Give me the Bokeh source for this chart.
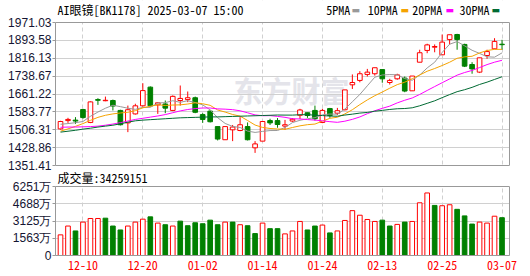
from bokeh.plotting import figure
from bokeh.models import (Range1d, FixedTicker, Grid, Label, ColumnDataSource,
                          BoxAnnotation, Span, LinearAxis)
from bokeh.embed import file_html
from bokeh.resources import INLINE

dates = ["12-05", "12-06", "12-09", "12-10", "12-11", "12-12", "12-13", "12-16", "12-17", "12-18",
         "12-19", "12-20", "12-23", "12-24", "12-25", "12-26", "12-27", "12-30", "12-31", "01-02",
         "01-03", "01-06", "01-07", "01-08", "01-09", "01-10", "01-13", "01-14", "01-15", "01-16",
         "01-17", "01-20", "01-21", "01-22", "01-23", "01-24", "01-27", "02-05", "02-06", "02-07",
         "02-10", "02-11", "02-12", "02-13", "02-14", "02-17", "02-18", "02-19", "02-20", "02-21",
         "02-24", "02-25", "02-26", "02-27", "02-28", "03-03", "03-04", "03-05", "03-06", "03-07"]
opens = [1510, 1546, 1548, 1594, 1538, 1637, 1632, 1633, 1590, 1536,
         1575, 1610, 1691, 1614, 1618, 1590, 1633, 1637, 1645, 1572,
         1587, 1520, 1463, 1506, 1503, 1520, 1428, 1457, 1546, 1546,
         1522, 1544, 1569, 1580, 1590, 1538, 1598, 1578, 1593, 1701,
         1720, 1746, 1749, 1767, 1711, 1727, 1730, 1675, 1799, 1850,
         1864, 1831, 1897, 1919, 1876, 1789, 1756, 1828, 1857, 1877]
highs = [1545, 1558, 1561, 1597, 1629, 1643, 1650, 1637, 1593, 1611,
         1619, 1708, 1694, 1626, 1633, 1655, 1698, 1672, 1650, 1578,
         1593, 1520, 1520, 1527, 1561, 1538, 1457, 1542, 1554, 1557,
         1549, 1556, 1597, 1580, 1611, 1597, 1601, 1601, 1679, 1746,
         1760, 1770, 1775, 1767, 1727, 1749, 1737, 1739, 1853, 1879,
         1876, 1919, 1918, 1922, 1879, 1799, 1818, 1853, 1903, 1896]
lows = [1507, 1536, 1532, 1554, 1535, 1614, 1630, 1590, 1525, 1496,
        1572, 1607, 1607, 1575, 1578, 1587, 1611, 1626, 1578, 1536,
        1538, 1460, 1463, 1457, 1500, 1460, 1406, 1457, 1527, 1515,
        1506, 1541, 1553, 1558, 1546, 1535, 1558, 1570, 1590, 1683,
        1712, 1737, 1741, 1710, 1702, 1723, 1669, 1675, 1799, 1838,
        1842, 1831, 1876, 1853, 1778, 1749, 1752, 1814, 1857, 1853]
closes = [1542, 1551, 1544, 1559, 1627, 1634, 1634, 1609, 1528, 1593,
          1610, 1676, 1610, 1623, 1600, 1651, 1642, 1645, 1582, 1551,
          1541, 1466, 1520, 1518, 1528, 1463, 1445, 1542, 1536, 1529,
          1528, 1552, 1592, 1568, 1554, 1590, 1568, 1589, 1679, 1711,
          1749, 1756, 1775, 1727, 1720, 1744, 1674, 1739, 1840, 1874,
          1867, 1886, 1918, 1897, 1782, 1770, 1818, 1845, 1889, 1875]
ma5 = [1530, 1533, 1537, 1542, 1564.6, 1583.0, 1599.6, 1612.6, 1606.4, 1599.6,
       1594.8, 1603.2, 1603.4, 1622.4, 1623.8, 1632.0, 1625.2, 1632.2, 1624.0, 1614.2,
       1592.2, 1558.6, 1533.6, 1520.8, 1516.2, 1500.6, 1494.8, 1499.2, 1502.8, 1503.0,
       1516.0, 1537.4, 1547.4, 1553.8, 1558.8, 1571.2, 1574.4, 1573.8, 1596.0, 1627.4,
       1659.2, 1696.8, 1734.0, 1743.6, 1745.4, 1744.4, 1728.0, 1720.8, 1743.4, 1774.2,
       1798.8, 1841.2, 1877.0, 1888.4, 1870.0, 1850.6, 1837.0, 1822.4, 1820.8, 1839.4]
ma10 = [1500, 1510, 1521, 1533, 1547, 1560, 1569, 1575, 1579, 1582.1,
        1588.9, 1601.4, 1608.0, 1614.4, 1611.7, 1613.4, 1614.2, 1617.8, 1623.2, 1619.0,
        1612.1, 1591.9, 1582.9, 1572.4, 1565.2, 1546.4, 1526.7, 1516.4, 1511.8, 1509.6,
        1508.3, 1516.1, 1523.3, 1528.3, 1530.9, 1543.6, 1555.9, 1560.6, 1574.9, 1593.1,
        1615.2, 1635.6, 1653.9, 1669.8, 1686.4, 1701.8, 1712.4, 1727.4, 1743.5, 1759.8,
        1771.6, 1784.6, 1798.9, 1815.9, 1822.1, 1824.7, 1839.1, 1849.7, 1854.6, 1854.7]
ma20 = [1517, 1518, 1518, 1519, 1520, 1522, 1526, 1531, 1537, 1544,
        1551, 1556, 1561, 1566, 1572, 1580, 1588, 1594, 1598, 1600.6,
        1600.5, 1596.7, 1595.5, 1593.4, 1588.5, 1579.9, 1570.5, 1567.1, 1567.5, 1564.3,
        1560.2, 1554.0, 1553.1, 1550.4, 1548.1, 1545.0, 1541.3, 1538.5, 1543.4, 1551.4,
        1561.8, 1575.9, 1588.6, 1599.1, 1608.7, 1622.7, 1634.2, 1644.0, 1659.2, 1676.5,
        1693.4, 1710.1, 1726.4, 1742.9, 1754.3, 1763.3, 1775.8, 1788.6, 1799.1, 1807.3]
ma30 = [1496, 1500, 1504, 1509, 1513, 1518, 1522, 1526, 1532, 1539,
        1545, 1548, 1550, 1552, 1554, 1556, 1558, 1559, 1560, 1561,
        1562, 1562, 1563, 1564, 1565, 1566, 1567, 1568, 1569, 1570.2,
        1569.8, 1569.8, 1571.4, 1571.7, 1569.3, 1567.8, 1565.6, 1564.9, 1570.0, 1573.9,
        1578.5, 1581.2, 1586.7, 1590.2, 1594.2, 1597.3, 1598.3, 1601.5, 1610.1, 1620.8,
        1631.7, 1645.4, 1658.7, 1671.3, 1679.8, 1690.0, 1702.5, 1712.6, 1724.3, 1735.9]
# volume in 万 (10k shares)
volume = [1869, 2669, 2225, 3025, 3352, 3352, 3381, 2669, 2313, 2669,
          3025, 3292, 3500, 2936, 2788, 2669, 3114, 2699, 2966, 2877,
          3203, 2788, 3025, 3025, 2788, 2699, 1987, 2936, 2432, 2432,
          1958, 2225, 3085, 2313, 2669, 2758, 2047, 2225, 3174, 4063,
          3648, 3263, 3085, 3203, 2669, 2818, 3025, 3085, 4775, 5665,
          4538, 4508, 4597, 4182, 3589, 2847, 3025, 2936, 3559, 3425.9151]
vol_up = [1, 1, 0, 1, 1, 1, 0, 0, 0, 1,
          1, 1, 0, 1, 0, 1, 0, 0, 0, 0,
          0, 0, 1, 0, 1, 0, 0, 1, 0, 0,
          1, 1, 1, 0, 0, 1, 0, 1, 1, 1,
          1, 1, 1, 0, 0, 1, 0, 1, 1, 1,
          0, 1, 1, 0, 0, 0, 1, 1, 1, 0]
tick_idx = [3, 11, 19, 27, 35, 43, 51, 59]
price_ticks = [1351.41, 1428.86, 1506.31, 1583.77, 1661.22, 1738.67, 1816.13, 1893.58, 1971.03]
price_tick_labels = ["1351.41", "1428.86", "1506.31", "1583.77", "1661.22", "1738.67",
                     "1816.13", "1893.58", "1971.03"]
vol_ticks = [0, 1563, 3125, 4688, 6251]
vol_tick_labels = ["0", "1563万", "3125万", "4688万", "6251万"]
title_text = "AI眼镜[BK1178] 2025-03-07 15:00"
vol_title = "成交量:34259151"
ma_names = ["5PMA", "10PMA", "20PMA", "30PMA"]

RED = "#ff0000"
GREEN = "#008000"
MA_COLORS = ["#999999", "#f5a300", "#ff00ff", "#006a33"]
GRID = "#d0d0d0"
FRAME = "#999999"
MONO = "'Noto Sans Mono CJK SC', 'DejaVu Sans Mono', monospace"
SANS = "'Liberation Sans', Arial, sans-serif"
LABEL_COLOR = "#141432"

# ---- layout in pixels (frame = whole plotting area, 0..255 px from top)
FRAME_H = 255
P_TOP, P_BOT = 22, 165      # price panel
V_TOP, V_BOT = 186, 255     # volume panel

p_lo, p_hi = price_ticks[0], price_ticks[-1]
k_p = (p_hi - p_lo) / (P_BOT - P_TOP)
y_start = p_hi - (FRAME_H - P_TOP) * k_p
y_end = p_hi + P_TOP * k_p
v_lo, v_hi = vol_ticks[0], vol_ticks[-1]
k_v = (v_hi - v_lo) / (V_BOT - V_TOP)
v_end = v_hi + V_TOP * k_v


def vol_to_price(v):
    px = V_BOT - (v - v_lo) / k_v
    return p_hi - (px - P_TOP) * k_p


vol_ticks_p = [vol_to_price(t) for t in vol_ticks]

idx = list(range(len(dates)))
up = [c >= o for o, c in zip(opens, closes)]
src = ColumnDataSource(dict(
    x=idx, h=highs, l=lows,
    top=[max(o, c) for o, c in zip(opens, closes)],
    bottom=[min(o, c) for o, c in zip(opens, closes)],
    line=[RED if u else GREEN for u in up],
    fill=["white" if u else GREEN for u in up],
))
vsrc = ColumnDataSource(dict(
    x=idx, v=volume,
    line=[RED if u else GREEN for u in vol_up],
    fill=["white" if u else GREEN for u in vol_up],
))

p = figure(width=530, height=276, x_range=Range1d(-0.67, 60.0), y_range=Range1d(y_start, y_end),
           toolbar_location=None, output_backend="svg",
           min_border_left=55, min_border_right=21, min_border_top=0, min_border_bottom=21)
p.extra_y_ranges = {"vol": Range1d(v_lo, v_end)}
p.grid.visible = False
p.outline_line_color = None

# grids
p.add_layout(Grid(dimension=1, ticker=FixedTicker(ticks=price_ticks + vol_ticks_p),
                  grid_line_color=GRID))
p.add_layout(Grid(dimension=0, ticker=FixedTicker(ticks=tick_idx), grid_line_color=GRID,
                  grid_line_dash="4 3"))
# white masks outside the two panels
p.add_layout(BoxAnnotation(bottom=p_hi, fill_color="white", fill_alpha=1.0, line_color=None,
                           level="underlay"))
p.add_layout(BoxAnnotation(top=p_lo, bottom=vol_ticks_p[-1], fill_color="white", fill_alpha=1.0,
                           line_color=None, level="underlay"))

# left axis carrying both panels' tick labels
ya = p.yaxis[0]
ya.ticker = FixedTicker(ticks=price_ticks + vol_ticks_p)
ya.major_label_overrides = dict(zip(price_ticks + vol_ticks_p, price_tick_labels + vol_tick_labels))
ya.axis_line_color = None
ya.major_tick_line_color = FRAME
ya.major_tick_out = 3
ya.major_tick_in = 0
ya.minor_tick_line_color = None
ya.major_label_standoff = 1
ya.major_label_text_font = SANS
ya.major_label_text_font_size = "12px"
ya.major_label_text_color = LABEL_COLOR


def border_axis(lo, hi, range_name="default"):
    return LinearAxis(y_range_name=range_name, bounds=(lo, hi), ticker=FixedTicker(ticks=[]),
                      axis_line_color=FRAME, major_tick_line_color=None,
                      minor_tick_line_color=None, major_tick_out=0, major_tick_in=0,
                      major_label_standoff=0, major_label_text_font_size="0px")


p.left = [border_axis(v_lo, v_hi, "vol"), border_axis(p_lo, p_hi), ya]
p.add_layout(border_axis(v_lo, v_hi, "vol"), "right")
p.add_layout(border_axis(p_lo, p_hi), "right")
p.add_layout(Span(location=p_hi, dimension="width", line_color=FRAME, line_width=1))
p.add_layout(Span(location=p_lo, dimension="width", line_color=FRAME, line_width=1))
p.add_layout(Span(location=v_hi, dimension="width", line_color=FRAME, line_width=1,
                  y_range_name="vol"))

# bottom axis with date labels
vx = p.xaxis[0]
vx.ticker = FixedTicker(ticks=tick_idx)
vx.major_label_overrides = {t: dates[t] for t in tick_idx}
vx.axis_line_color = FRAME
vx.major_tick_line_color = None
vx.minor_tick_line_color = None
vx.major_tick_out = 0
vx.major_tick_in = 0
vx.major_label_standoff = 5
vx.major_label_text_font = MONO
vx.major_label_text_font_size = "12px"
vx.major_label_text_color = RED

# watermark
p.add_layout(Label(x=178, y=FRAME_H - 89, x_units="screen", y_units="screen", text="东方财富",
                   text_font="'Noto Sans CJK SC'", text_font_size="29px", text_font_style="bold",
                   text_color="#e4e4ea", text_baseline="middle", level="image"))

# candles + moving averages
p.segment(x0="x", y0="l", x1="x", y1="h", line_color="line", line_width=1, source=src)
p.vbar(x="x", width=0.62, top="top", bottom="bottom", fill_color="fill", line_color="line",
       line_width=1, source=src)
for ma, col in zip([ma5, ma10, ma20, ma30], MA_COLORS):
    p.line(idx, ma, line_color=col, line_width=1)

# volume bars
p.vbar(x="x", width=0.62, top="v", bottom=0, fill_color="fill", line_color="line",
       line_width=1, source=vsrc, y_range_name="vol")

# header texts
p.add_layout(Label(x=2, y=FRAME_H - 9, x_units="screen", y_units="screen", text=title_text,
                   text_font=MONO, text_font_size="12px", text_color="#000000",
                   text_baseline="middle", level="overlay"))
leg_x = [270.7, 312.3, 356.7, 404]
bar_x = [296, 345, 390, 436]
for name, col, lx, bx in zip(ma_names, MA_COLORS, leg_x, bar_x):
    p.add_layout(Label(x=lx, y=FRAME_H - 9, x_units="screen", y_units="screen", text=name,
                       text_font=MONO, text_font_size="12px", text_color="#000000",
                       text_baseline="middle", level="overlay"))
    p.add_layout(Label(x=bx, y=FRAME_H - 9, x_units="screen", y_units="screen", text="▬",
                       text_font="'DejaVu Sans'", text_font_size="9px", text_color=col,
                       text_baseline="middle", level="overlay"))
p.add_layout(Label(x=2, y=FRAME_H - 176.5, x_units="screen", y_units="screen", text=vol_title,
                   text_font=MONO, text_font_size="12px", text_color="#000000",
                   text_baseline="middle", level="overlay"))

open("out.html", "w").write(file_html(p, INLINE))
